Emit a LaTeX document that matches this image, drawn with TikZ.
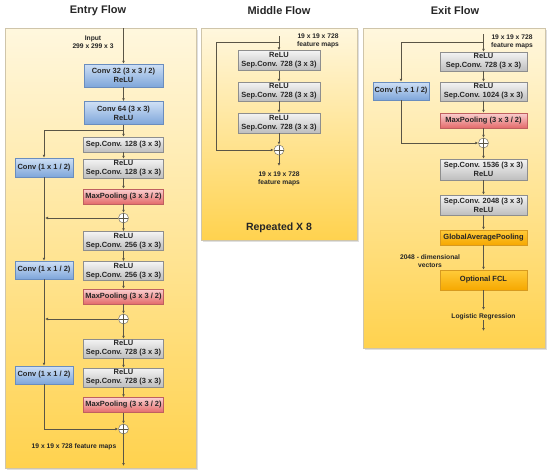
\documentclass[tikz,border=0pt]{standalone}
\usepackage{fontspec}
\setmainfont{Liberation Sans}
\usetikzlibrary{arrows.meta,shadows}
\definecolor{lineC}{HTML}{5A5546}
\definecolor{panelT}{HTML}{FFF7DE}
\definecolor{panelBot}{HTML}{FFD24E}
\definecolor{panelD}{HTML}{CFC5AA}
\definecolor{greyT}{HTML}{F4F4F4}
\definecolor{greyB}{HTML}{BEBEBE}
\definecolor{greyD}{HTML}{8E8E8E}
\definecolor{blueT}{HTML}{CFE0F5}
\definecolor{blueB}{HTML}{7EA6DA}
\definecolor{blueD}{HTML}{6A8DBE}
\definecolor{redT}{HTML}{FAD0D0}
\definecolor{redB}{HTML}{E46A6A}
\definecolor{redD}{HTML}{BF6060}
\definecolor{orT}{HTML}{FFCB3A}
\definecolor{orB}{HTML}{F6A800}
\definecolor{orD}{HTML}{D79A20}
\tikzset{
  panel/.style={rectangle, draw=panelD, top color=panelT, bottom color=panelBot,
    line width=0.6pt, anchor=north west, inner sep=0pt,
    drop shadow={shadow xshift=1.5pt, shadow yshift=-1.5pt, opacity=0.25}},
  title/.style={font=\fontsize{11}{13}\selectfont\bfseries, text=black!85},
  rep/.style={font=\fontsize{10.5}{12}\selectfont\bfseries, text=black!85},
  lbl/.style={font=\fontsize{6.7}{7.8}\selectfont\bfseries, align=center, text=black!85, inner sep=0pt},
  boxbase/.style={rectangle, inner sep=0pt, align=center, line width=0.45pt,
    font=\fontsize{7.5}{9}\selectfont\bfseries, text=black!85,
    drop shadow={shadow xshift=0.9pt, shadow yshift=-0.9pt, opacity=0.3}},
  greybox/.style={boxbase, draw=greyD, top color=greyT, bottom color=greyB},
  bluebox/.style={boxbase, draw=blueD, top color=blueT, bottom color=blueB},
  redbox/.style={boxbase, draw=redD, top color=redT, bottom color=redB},
  orbox/.style={boxbase, draw=orD, top color=orT, bottom color=orB},
  plusnode/.style={circle, draw=lineC!80, fill=white, minimum size=10pt, inner sep=0pt, line width=0.5pt,
    path picture={\draw[lineC, line width=0.5pt] (path picture bounding box.north) -- (path picture bounding box.south)
      (path picture bounding box.west) -- (path picture bounding box.east);}},
  conn/.style={draw=lineC, line width=0.6pt, -{Latex[length=3pt,width=2.8pt]}},
  plain/.style={draw=lineC, line width=0.6pt},
}
\begin{document}
\begin{tikzpicture}[x=1pt,y=-1pt]
\useasboundingbox (0,0) rectangle (550,472);

% ================= Entry Flow =================
\node[panel, minimum width=191pt, minimum height=440pt] (epanel) at (5,28) {};
\node[title] (etitle) at (98,11) {Entry Flow};
\coordinate (ein) at (123.5,28);
\node[lbl] (einput) at (93,42) {Input\\299 x 299 x 3};
\node[bluebox, minimum width=79pt, minimum height=23pt] (c32) at (123.5,75.5) {Conv 32 (3 x 3 / 2)\\ReLU};
\node[bluebox, minimum width=79pt, minimum height=23pt] (c64) at (123.5,113) {Conv 64 (3 x 3)\\ReLU};
\coordinate (eb1) at (123.5,130);
\node[greybox, minimum width=80pt, minimum height=15pt] (s128a) at (123.5,144.5) {Sep.Conv. 128 (3 x 3)};
\node[bluebox, minimum width=58pt, minimum height=19pt] (k1) at (44,167.5) {Conv (1 x 1 / 2)};
\node[greybox, minimum width=80pt, minimum height=19pt] (s128b) at (123.5,168.5) {ReLU\\Sep.Conv. 128 (3 x 3)};
\node[redbox, minimum width=80pt, minimum height=15pt] (mp1) at (123.5,196.5) {MaxPooling (3 x 3 / 2)};
\node[plusnode] (p1) at (123.5,218) {};
\coordinate (j1) at (45,218);
\node[greybox, minimum width=80pt, minimum height=19pt] (s256a) at (123.5,241) {ReLU\\Sep.Conv. 256 (3 x 3)};
\node[bluebox, minimum width=58pt, minimum height=18pt] (k2) at (44,270) {Conv (1 x 1 / 2)};
\node[greybox, minimum width=80pt, minimum height=19pt] (s256b) at (123.5,271) {ReLU\\Sep.Conv. 256 (3 x 3)};
\node[redbox, minimum width=80pt, minimum height=15pt] (mp2) at (123.5,296.5) {MaxPooling (3 x 3 / 2)};
\node[plusnode] (p2) at (123.5,319) {};
\coordinate (j2) at (45,319);
\node[greybox, minimum width=80pt, minimum height=19pt] (s728a) at (123.5,348.5) {ReLU\\Sep.Conv. 728 (3 x 3)};
\node[bluebox, minimum width=58pt, minimum height=18pt] (k3) at (44,375) {Conv (1 x 1 / 2)};
\node[greybox, minimum width=80pt, minimum height=19pt] (s728b) at (123.5,377.5) {ReLU\\Sep.Conv. 728 (3 x 3)};
\node[redbox, minimum width=80pt, minimum height=15pt] (mp3) at (123.5,405) {MaxPooling (3 x 3 / 2)};
\node[plusnode] (p3) at (123.5,429) {};
\node[lbl] (efm) at (74,447) {19 x 19 x 728 feature maps};
\coordinate (eout) at (123.5,466);

\draw[conn] (ein) -- (c32);
\draw[conn] (c32) -- (c64);
\draw[conn] (c64) -- (s128a);
\draw[conn] (eb1) -| (k1);
\draw[conn] (s128a) -- (s128b);
\draw[conn] (s128b) -- (mp1);
\draw[conn] (mp1) -- (p1);
\draw[conn] (p1) -- (s256a);
\draw[conn] (p1) -- (j1);
\draw[conn] (k1) -- (k2);
\draw[conn] (s256a) -- (s256b);
\draw[conn] (s256b) -- (mp2);
\draw[conn] (mp2) -- (p2);
\draw[conn] (p2) -- (s728a);
\draw[conn] (p2) -- (j2);
\draw[conn] (k2) -- (k3);
\draw[conn] (s728a) -- (s728b);
\draw[conn] (s728b) -- (mp3);
\draw[conn] (mp3) -- (p3);
\draw[conn] (k3) |- (p3);
\draw[conn] (p3) -- (eout);

% ================= Middle Flow =================
\node[panel, minimum width=156pt, minimum height=212pt] (mpanel) at (201,28) {};
\node[title] (mtitle) at (279,11) {Middle Flow};
\coordinate (min) at (279,36);
\coordinate (mb) at (279,42);
\coordinate (mskip) at (216,42);
\node[lbl] (mfmt) at (318,41) {19 x 19 x 728\\feature maps};
\node[greybox, minimum width=82pt, minimum height=20pt] (m1) at (279,60.5) {ReLU\\Sep.Conv. 728 (3 x 3)};
\node[greybox, minimum width=82pt, minimum height=19pt] (m2) at (279,91.5) {ReLU\\Sep.Conv. 728 (3 x 3)};
\node[greybox, minimum width=82pt, minimum height=20pt] (m3) at (279,123) {ReLU\\Sep.Conv. 728 (3 x 3)};
\node[plusnode] (mplus) at (279,150) {};
\coordinate (mout) at (279,166);
\node[lbl] (mfmb) at (279,179) {19 x 19 x 728\\feature maps};
\node[rep] (mrep) at (279,228) {Repeated X 8};

\draw[conn] (min) -- (m1);
\draw[plain] (mb) -- (mskip);
\draw[conn] (mskip) |- (mplus);
\draw[conn] (m1) -- (m2);
\draw[conn] (m2) -- (m3);
\draw[conn] (m3) -- (mplus);
\draw[conn] (mplus) -- (mout);

% ================= Exit Flow =================
\node[panel, minimum width=182pt, minimum height=320pt] (xpanel) at (363,28) {};
\node[title] (xtitle) at (455,11) {Exit Flow};
\coordinate (xin) at (483.5,34);
\coordinate (xb) at (483.5,42);
\node[lbl] (xfm) at (512,42) {19 x 19 x 728\\feature maps};
\node[greybox, minimum width=87pt, minimum height=19pt] (x1) at (483.5,61.5) {ReLU\\Sep.Conv. 728 (3 x 3)};
\node[bluebox, minimum width=56pt, minimum height=18pt] (xk) at (401,91) {Conv (1 x 1 / 2)};
\node[greybox, minimum width=87pt, minimum height=19pt] (x2) at (483.5,91.5) {ReLU\\Sep.Conv. 1024 (3 x 3)};
\node[redbox, minimum width=87pt, minimum height=15pt] (xmp) at (483.5,120.5) {MaxPooling (3 x 3 / 2)};
\node[plusnode] (xplus) at (483.5,143) {};
\node[greybox, minimum width=87pt, minimum height=21pt] (x3) at (483.5,169.5) {Sep.Conv. 1536 (3 x 3)\\ReLU};
\node[greybox, minimum width=87pt, minimum height=20pt] (x4) at (483.5,205) {Sep.Conv. 2048 (3 x 3)\\ReLU};
\node[orbox, minimum width=87pt, minimum height=15pt] (xgap) at (483.5,237.5) {GlobalAveragePooling};
\node[lbl] (xdim) at (430,261) {2048 - dimensional\\vectors};
\node[orbox, minimum width=87pt, minimum height=20pt] (xfcl) at (483.5,280) {Optional FCL};
\coordinate (xlr1) at (483.5,310);
\node[lbl] (xlr) at (483.5,317) {Logistic Regression};
\coordinate (xout) at (483.5,331);

\draw[conn] (xin) -- (x1);
\draw[conn] (xb) -| (xk);
\draw[conn] (x1) -- (x2);
\draw[conn] (x2) -- (xmp);
\draw[conn] (xmp) -- (xplus);
\draw[conn] (xk) |- (xplus);
\draw[conn] (xplus) -- (x3);
\draw[conn] (x3) -- (x4);
\draw[conn] (x4) -- (xgap);
\draw[conn] (xgap) -- (xfcl);
\draw[conn] (xfcl) -- (xlr1);
\draw[conn] (xlr) -- (xout);
\end{tikzpicture}
\end{document}
